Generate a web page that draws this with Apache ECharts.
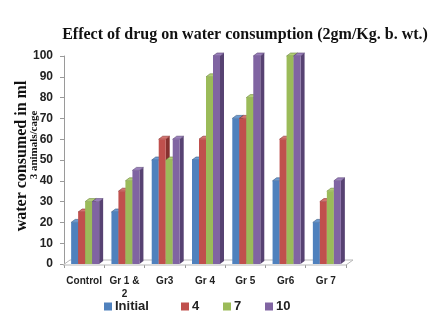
<!DOCTYPE html>
<html>
<head>
<meta charset="utf-8">
<script src="https://cdn.jsdelivr.net/npm/echarts@6/dist/echarts.min.js"></script>
<style>
  html, body { margin: 0; padding: 0; background: #fff; }
  #chart { width: 436px; height: 323px; }
</style>
</head>
<body>
<div id="chart"></div>
<script>
// Water consumption (ml, 3 animals/cage) per group on each day
const categories = ['Control', 'Gr 1 &\n2', 'Gr3', 'Gr 4', 'Gr 5', 'Gr6', 'Gr 7'];
const seriesNames = ['Initial', '4', '7', '10'];
const initialVals = [20, 25, 50, 50, 70, 40, 20];
const day4Vals    = [25, 35, 60, 60, 70, 60, 30];
const day7Vals    = [30, 40, 50, 90, 80, 100, 35];
const day10Vals   = [30, 45, 60, 100, 100, 100, 40];
const yTicks = [0, 10, 20, 30, 40, 50, 60, 70, 80, 90, 100];

const valueSets = [initialVals, day4Vals, day7Vals, day10Vals];
const colors = ['#4F81BD', '#C0504D', '#9BBB59', '#8064A2'];
const sideColors = ['#34577f', '#86312f', '#6b843a', '#574272'];
const topColors = ['#6d9ad0', '#d47370', '#b2cf77', '#9a80bb'];

const BAR_W = 7;       // front face width of each bar
const DX = 4, DY = 3;  // depth offset of the 3D faces

function barRenderer(sIdx) {
  return function (params, api) {
    const cat = api.value(0);
    const val = api.value(1);
    const base = api.coord([cat, 0]);
    const top = api.coord([cat, val]);
    const groupW = BAR_W * seriesNames.length;
    const x0 = base[0] - groupW / 2 + 1 + sIdx * BAR_W;
    const x1 = x0 + BAR_W;
    const yb = base[1], yt = top[1];
    return {
      type: 'group',
      children: [
        { type: 'polygon', shape: { points: [[x1, yb], [x1 + DX, yb - DY], [x1 + DX, yt - DY], [x1, yt]] },
          style: { fill: sideColors[sIdx] } },
        { type: 'polygon', shape: { points: [[x0, yt], [x1, yt], [x1 + DX, yt - DY], [x0 + DX, yt - DY]] },
          style: { fill: topColors[sIdx], stroke: sideColors[sIdx], lineWidth: 0.6 } },
        { type: 'rect', shape: { x: x0, y: yt, width: BAR_W, height: yb - yt },
          style: { fill: colors[sIdx] } }
      ]
    };
  };
}

// floor plane beneath the bars
function floorRenderer(params, api) {
  const cs = params.coordSys;
  const yb = api.coord([0, 0])[1];
  const xl = cs.x, xr = cs.x + cs.width;
  return {
    type: 'polygon',
    shape: { points: [[xl - 1, yb + 1], [xr, yb + 1], [xr + 7, yb - 4], [xl + 6, yb - 4]] },
    style: { fill: '#ffffff', stroke: '#b8b8b8', lineWidth: 1 }
  };
}

const series = [{
  type: 'custom',
  renderItem: floorRenderer,
  data: [[0, 0]],
  encode: { x: 0, y: 1 },
  silent: true,
  z: 1
}];
seriesNames.forEach(function (name, i) {
  series.push({
    name: name,
    type: 'custom',
    renderItem: barRenderer(i),
    itemStyle: { color: colors[i] },
    data: valueSets[i].map(function (v, c) { return [c, v]; }),
    encode: { x: 0, y: 1 },
    z: 2 + i
  });
});

const legendLeft = [99, 176, 218, 260];
const legends = seriesNames.map(function (name, i) {
  return {
    data: [name],
    left: legendLeft[i],
    top: 295,
    itemWidth: 8,
    itemHeight: 8,
    itemGap: 0,
    icon: 'rect',
    textStyle: { fontFamily: 'Liberation Sans', fontWeight: 'bold', fontSize: 13, color: '#222', padding: [0, 0, 0, -2] }
  };
});

const chart = echarts.init(document.getElementById('chart'), null, { renderer: 'canvas' });
chart.setOption({
  animation: false,
  backgroundColor: '#ffffff',
  title: {
    text: 'Effect of drug on water consumption (2gm/Kg. b. wt.)',
    left: 240,
    top: 22,
    textAlign: 'center',
    textStyle: { fontFamily: 'Liberation Serif', fontWeight: 'bold', fontSize: 16, color: '#111' }
  },
  legend: legends,
  grid: { left: 64, right: 90, top: 56, bottom: 59, containLabel: false },
  xAxis: {
    type: 'category',
    data: categories,
    boundaryGap: true,
    axisLine: { show: false },
    axisTick: { show: true, length: 4, lineStyle: { color: '#999' } },
    axisLabel: {
      interval: 0,
      margin: 11,
      fontFamily: 'Liberation Sans',
      fontWeight: 'bold',
      fontSize: 10,
      lineHeight: 13,
      color: '#222'
    },
    splitLine: { show: false }
  },
  yAxis: {
    type: 'value',
    min: yTicks[0],
    max: yTicks[yTicks.length - 1],
    interval: 10,
    axisLine: { show: true, lineStyle: { color: '#9a9a9a' } },
    axisTick: { show: true, length: 4, lineStyle: { color: '#9a9a9a' } },
    axisLabel: {
      margin: 11,
      fontFamily: 'Liberation Sans',
      fontWeight: 'bold',
      fontSize: 12,
      color: '#222'
    },
    splitLine: { show: false }
  },
  graphic: [
    {
      type: 'text',
      x: 22, y: 156,
      rotation: Math.PI / 2,
      style: {
        text: 'water consumed in ml',
        fontFamily: 'Liberation Serif',
        fontWeight: 'bold',
        fontSize: 16,
        fill: '#111',
        align: 'center',
        verticalAlign: 'middle'
      }
    },
    {
      type: 'text',
      x: 34, y: 145,
      rotation: Math.PI / 2,
      style: {
        text: '3 animals/cage',
        fontFamily: 'Liberation Serif',
        fontWeight: 'bold',
        fontSize: 11,
        fill: '#111',
        align: 'center',
        verticalAlign: 'middle'
      }
    }
  ],
  series: series
});
</script>
</body>
</html>
